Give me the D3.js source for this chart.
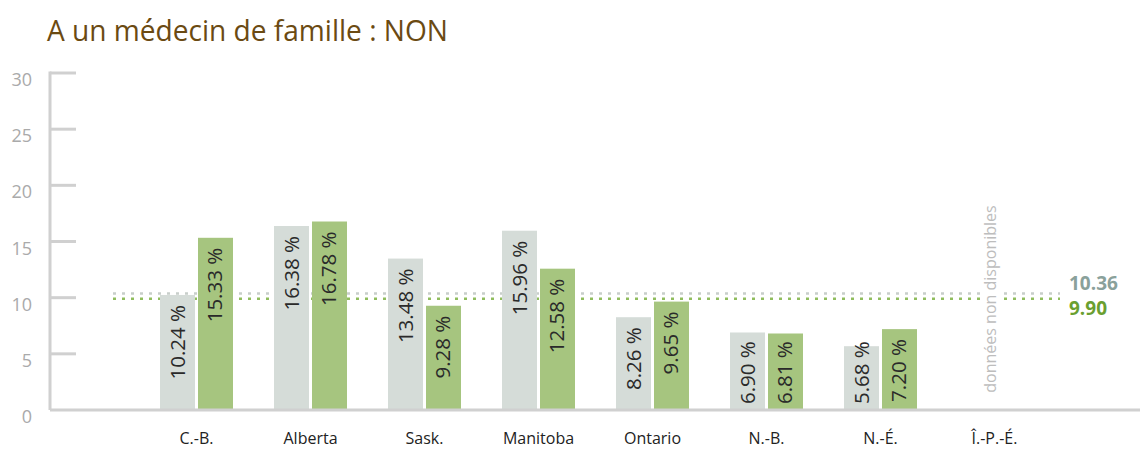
<!DOCTYPE html>
<html><head><meta charset="utf-8">
<script src="https://cdn.jsdelivr.net/npm/d3@7"></script>
<style>body{margin:0;background:#fff}svg{display:block}text{font-family:"Open Sans",sans-serif}</style>
</head><body>
<script>
const title = "A un médecin de famille : NON";
const categories = ["C.-B.","Alberta","Sask.","Manitoba","Ontario","N.-B.","N.-É.","Î.-P.-É."];
const seriesNames = ["s1","s2"];
const series1 = [10.24,16.38,13.48,15.96,8.26,6.90,5.68,null];
const series2 = [15.33,16.78,9.28,12.58,9.65,6.81,7.20,null];
const averages = [10.36, 9.90];
const yTicks = [0,5,10,15,20,25,30];
const naLabel = "données non disponibles";

const W=1140,H=453;
const colors = ["#d5dcd8","#a6c57f"];
const lineColors = ["#c8ceca","#8fbd5c"];
const avgText = ["#8aa19b","#6a9f30"];

const svg = d3.select("body").append("svg").attr("width",W).attr("height",H);

svg.append("text").attr("x",47).attr("y",41).attr("fill","#6b4a12")
  .attr("font-size",29).attr("textLength",401).attr("lengthAdjust","spacingAndGlyphs").text(title);

const y = d3.scaleLinear().domain([0,30]).range([410,73]);
const x0 = d3.scaleBand().domain(categories).range([139.5,1051.5]).padding(0);
const x1 = d3.scaleBand().domain(seriesNames).range([20.5,93.5]).paddingInner(0.0789).paddingOuter(0);

// y axis line & ticks
svg.append("line").attr("x1",50).attr("x2",50).attr("y1",y(30)-1.5).attr("y2",y(0))
  .attr("stroke","#d0d0d0").attr("stroke-width",3);
const tg = svg.append("g");
yTicks.forEach(t=>{
  if(t>0) tg.append("line").attr("x1",50).attr("x2",76).attr("y1",y(t)).attr("y2",y(t))
    .attr("stroke","#d0d0d0").attr("stroke-width",3);
  tg.append("text").attr("x",32).attr("y",y(t)+13).attr("text-anchor","end")
    .attr("font-size",18).attr("fill","#aaa").text(t);
});

// average dotted lines (behind bars)
averages.forEach((v,i)=>{
  svg.append("line").attr("x1",113).attr("x2",1060).attr("y1",y(v)).attr("y2",y(v))
    .attr("stroke",lineColors[i]).attr("stroke-width",2.5).attr("stroke-dasharray","3,6");
  svg.append("text").attr("x",1069).attr("y",y(v)+(i===0?-4:16)).attr("font-size",19)
    .attr("font-weight","bold").attr("fill",avgText[i]).text(v.toFixed(2));
});

// bars
const data = categories.map((c,i)=>({c, vals:[series1[i],series2[i]]}));
const groups = svg.selectAll("g.grp").data(data).join("g").attr("class","grp")
  .attr("transform",d=>`translate(${x0(d.c)},0)`);
groups.each(function(d){
  const g=d3.select(this);
  d.vals.forEach((v,k)=>{
    if(v==null) return;
    const bx = x1(seriesNames[k]), bw=x1.bandwidth();
    g.append("rect").attr("x",bx).attr("y",y(v)).attr("width",bw).attr("height",y(0)-y(v)).attr("fill",colors[k]);
    const t = g.append("text").attr("font-size",20.5).attr("fill","#2a2a2a")
      .attr("text-anchor","start").text(v.toFixed(2)+" %");
    const len = t.node().getComputedTextLength();
    const topY = Math.min(y(v)+10, 404-len);
    const cx = bx+bw/2+7;
    t.attr("transform",`translate(${cx},${topY+len}) rotate(-90)`);
  });
});

// baseline
svg.append("line").attr("x1",50).attr("x2",W).attr("y1",y(0)).attr("y2",y(0))
  .attr("stroke","#d0d0d0").attr("stroke-width",3);

// category labels
categories.forEach(c=>{
  svg.append("text").attr("x",x0(c)+x0.bandwidth()/2).attr("y",444).attr("text-anchor","middle")
    .attr("font-size",16).attr("fill","#222").text(c);
});

// N/A label
const naIdx = series1.findIndex(v=>v==null);
const naX = x0(categories[naIdx])+x0.bandwidth()/2-4;
const naG = svg.append("g").attr("transform",`translate(${naX},${299}) rotate(-90)`);
const naT = naG.append("text").attr("text-anchor","middle").attr("dy","0.35em").attr("font-size",16)
  .attr("fill","#bdbdbd").text(naLabel);
const bb = naT.node().getBBox();
naG.insert("rect","text").attr("x",bb.x-2).attr("y",bb.y+2).attr("width",bb.width+4).attr("height",bb.height-4).attr("fill","#fff");
</script>
</body></html>
